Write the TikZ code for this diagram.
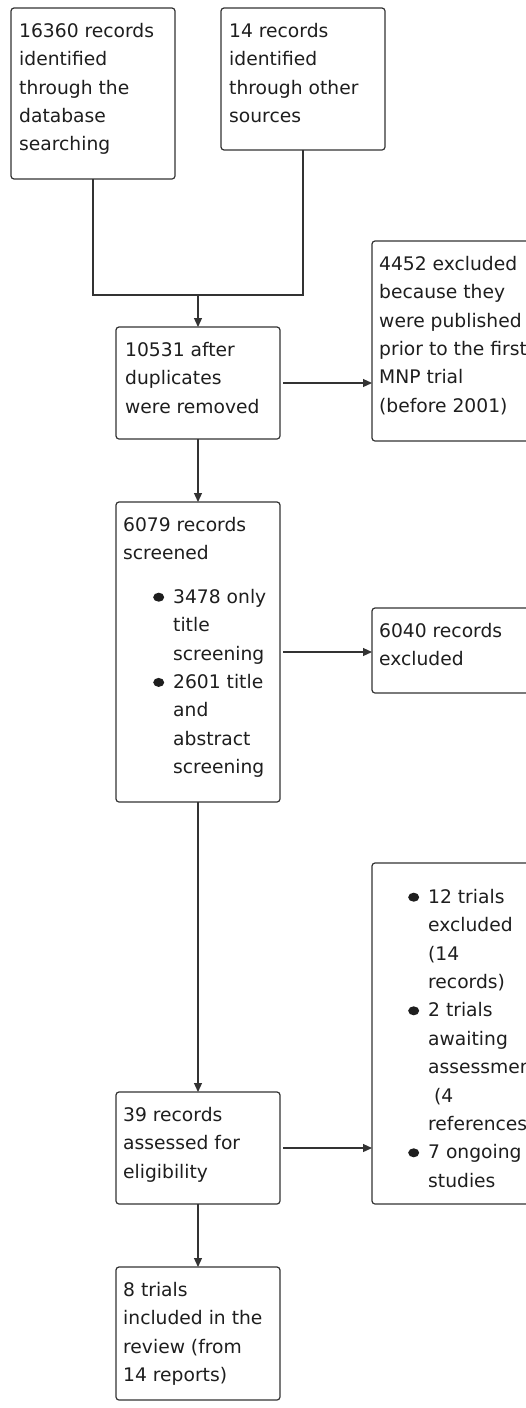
\documentclass[tikz,border=0pt]{standalone}
\usepackage{fontspec}
\setmainfont{DejaVu Sans}
\usetikzlibrary{arrows.meta}
\definecolor{linecol}{HTML}{333333}
\definecolor{textcol}{HTML}{1E1E1E}
\newcommand{\bodyfont}{\fontsize{18.7}{28.4}\selectfont}
% bullet and its matching indent for the item lists
\newcommand{\bul}{\makebox[20pt][l]{\tikz[x=1pt,y=1pt,baseline=0pt]
  \fill[textcol] (5.5,6) ellipse[x radius=5.5, y radius=4.5];}}
\newcommand{\bulsp}{\makebox[20pt]{}}
\begin{document}
\begin{tikzpicture}[x=1pt,y=-1pt,
  frame/.style={draw=linecol, line width=1.2pt, rounded corners=3pt,
    anchor=north west, inner sep=0pt, outer sep=0pt, minimum width=164pt},
  txt/.style={anchor=north west, inner sep=0pt, align=left,
    font=\bodyfont, text=textcol},
  link/.style={draw=linecol, line width=1.2pt},
  arr/.style={link, -{Triangle[length=9pt,width=8pt]}}]

\useasboundingbox (0,0) rectangle (526,1408);
\fill[white] (0,0) rectangle (526,1408);
\clip (0,0) rectangle (526,1408);

% boxes
\node[frame, minimum height=171pt] (A) at (11,8) {};
\node[frame, minimum height=142pt] (B) at (221,8) {};
\node[frame, minimum height=112pt] (C) at (116,327) {};
\node[frame, minimum height=200pt] (E) at (372,241) {};
\node[frame, minimum height=300pt] (D) at (116,502) {};
\node[frame, minimum height=85pt] (F) at (372,608) {};
\node[frame, minimum height=112pt] (G) at (116,1092) {};
\node[frame, minimum height=341pt] (H) at (372,863) {};
\node[frame, minimum height=133pt] (I) at (116,1267) {};

% box texts
\node[txt] (At) at ([shift={(8,9.12)}]A.north west)
  {\strut 16360 records\\identified\\through the\\database\\searching};
\node[txt] (Bt) at ([shift={(8,9.12)}]B.north west)
  {\strut 14 records\\identified\\through other\\sources};
\node[txt] (Ct) at ([shift={(9,9.12)}]C.north west)
  {\strut 10531 after\\duplicates\\were removed};
\node[txt] (Et) at ([shift={(7,9.12)}]E.north west)
  {\strut 4452 excluded\\because they\\were published\\prior to the first\\MNP trial\\(before 2001)};
\node[txt] (Dt) at ([shift={(7,9.12)}]D.north west)
  {\strut 6079 records\\screened};
\node[txt] (Dl) at ([shift={(37,81.12)}]D.north west)
  {\strut\bul 3478 only\\\bulsp title\\\bulsp screening\\\bul 2601 title\\\bulsp and\\\bulsp abstract\\\bulsp screening};
\node[txt] (Ft) at ([shift={(7,9.12)}]F.north west)
  {\strut 6040 records\\excluded};
\node[txt] (Hl) at ([shift={(36,20.12)}]H.north west)
  {\strut\bul 12 trials\\\bulsp excluded\\\bulsp (14\\\bulsp records)\\\bul 2 trials\\\bulsp awaiting\\\bulsp assessment\\\bulsp\ (4\\\bulsp references)\\\bul 7 ongoing\\\bulsp studies};
\node[txt] (Gt) at ([shift={(7,9.12)}]G.north west)
  {\strut 39 records\\assessed for\\eligibility};
\node[txt] (It) at ([shift={(7,9.12)}]I.north west)
  {\strut 8 trials\\included in the\\review (from\\14 reports)};

% connectors
\coordinate (join) at (C.north |- 0,295);
\draw[link] (A.south) |- (join) -| (B.south);
\draw[arr] (join) -- (C.north);
\draw[arr, shorten <=3pt] (C.east) -- (C.east -| E.west);
\draw[arr] (C.south) -- (D.north);
\draw[arr, shorten <=3pt] (D.east) -- (D.east -| F.west);
\draw[arr] (D.south) -- (G.north);
\draw[arr, shorten <=3pt] (G.east) -- (G.east -| H.west);
\draw[arr] (G.south) -- (I.north);
\end{tikzpicture}
\end{document}
